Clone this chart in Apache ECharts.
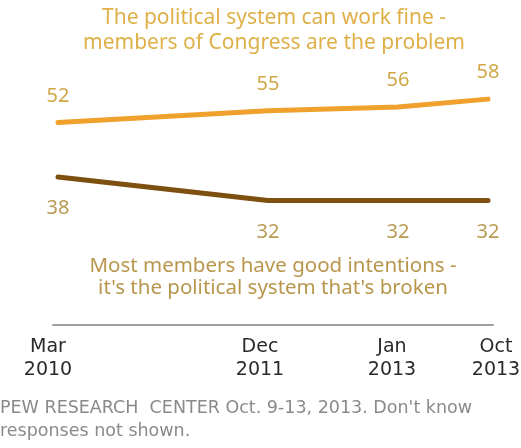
<!DOCTYPE html>
<html>
<head>
<meta charset="utf-8">
<script src="https://cdn.jsdelivr.net/npm/echarts@6/dist/echarts.min.js"></script>
<style>
  html, body { margin: 0; padding: 0; background: #fff; }
  #main { width: 521px; height: 448px; }
</style>
</head>
<body>
<div id="main"></div>
<script>
// survey dates
var monthNames = ['Mar', 'Dec', 'Jan', 'Oct'];
var years = [2010, 2011, 2013, 2013];
var monthNums = [3, 12, 1, 10];
// % saying...
var congressProblem = [52, 55, 56, 58];
var systemBroken = [38, 32, 32, 32];

// months since first survey, so spacing follows real time
var xPos = monthNums.map(function (m, i) {
  return (years[i] - years[0]) * 12 + (m - monthNums[0]);
});

var chart = echarts.init(document.getElementById('main'));

function pairs(vals) {
  return vals.map(function (v, i) { return [xPos[i], v]; });
}

var option = {
  animation: false,
  backgroundColor: '#fff',
  title: [{
    text: 'The political system can work fine -\nmembers of Congress are the problem',
    left: 274,
    top: 6,
    padding: 0,
    textAlign: 'center',
    textStyle: {
      fontFamily: 'Noto Sans',
      fontSize: 21,
      fontWeight: 'normal',
      color: '#dfb048',
      lineHeight: 25
    }
  }, {
    text: 'Most members have good intentions -\nit\'s the political system that\'s broken',
    left: 273,
    top: 255,
    padding: 0,
    textAlign: 'center',
    textStyle: {
      fontFamily: 'Noto Sans',
      fontSize: 20.5,
      fontWeight: 'normal',
      color: '#b8964c',
      lineHeight: 22
    }
  }, {
    text: 'PEW RESEARCH  CENTER Oct. 9-13, 2013. Don\'t know\nresponses not shown.',
    left: 0,
    top: 397,
    padding: 0,
    textStyle: {
      fontFamily: 'DejaVu Sans',
      fontSize: 17.5,
      fontWeight: 'normal',
      color: '#8a8a8a',
      lineHeight: 23
    }
  }],
  grid: {
    left: 53,
    right: 28,
    top: 29,
    height: 300,
    outerBoundsMode: 'none',
    containLabel: false
  },
  xAxis: {
    type: 'value',
    min: -0.5,
    max: 43.5,
    axisLine: { show: true, lineStyle: { color: '#a0a0a0', width: 2 } },
    axisTick: { show: false },
    splitLine: { show: false },
    axisLabel: {
      customValues: xPos,
      margin: 7,
      formatter: function (val) {
        var i = xPos.indexOf(val);
        if (i < 0) return '';
        var st = i === xPos.length - 1 ? 'r' : (i === 0 ? 'l' : (i === 1 ? 'm' : 'n'));
        return '{' + st + '|' + monthNames[i] + '}\n{' + st + '|' + years[i] + '}';
      },
      rich: {
        l: { fontFamily: 'DejaVu Sans', fontSize: 19, color: '#2a2a2a', lineHeight: 23, padding: [0, 20, 0, 0] },
        m: { fontFamily: 'DejaVu Sans', fontSize: 19, color: '#2a2a2a', lineHeight: 23, padding: [0, 16, 0, 0] },
        n: { fontFamily: 'DejaVu Sans', fontSize: 19, color: '#2a2a2a', lineHeight: 23, padding: [0, 12, 0, 0] },
        r: { fontFamily: 'DejaVu Sans', fontSize: 19, color: '#2a2a2a', lineHeight: 23, padding: [0, 0, 0, 16] }
      }
    }
  },
  yAxis: {
    type: 'value',
    min: -1,
    max: 76,
    show: false
  },
  series: [{
    name: 'Congress is the problem',
    type: 'line',
    data: pairs(congressProblem),
    symbol: 'circle',
    symbolSize: 1,
    lineStyle: { color: '#f0a02c', width: 5, cap: 'round' },
    itemStyle: { color: '#f0a02c' },
    label: {
      show: true,
      position: 'top',
      distance: 16,
      fontFamily: 'Noto Sans',
      fontSize: 20,
      color: '#cfa845'
    }
  }, {
    name: 'System is broken',
    type: 'line',
    data: pairs(systemBroken),
    symbol: 'circle',
    symbolSize: 1,
    lineStyle: { color: '#7d5010', width: 5, cap: 'round' },
    itemStyle: { color: '#7d5010' },
    label: {
      show: true,
      position: 'bottom',
      distance: 21,
      fontFamily: 'Noto Sans',
      fontSize: 20,
      color: '#b89a52'
    }
  }]
};

chart.setOption(option);
</script>
</body>
</html>
